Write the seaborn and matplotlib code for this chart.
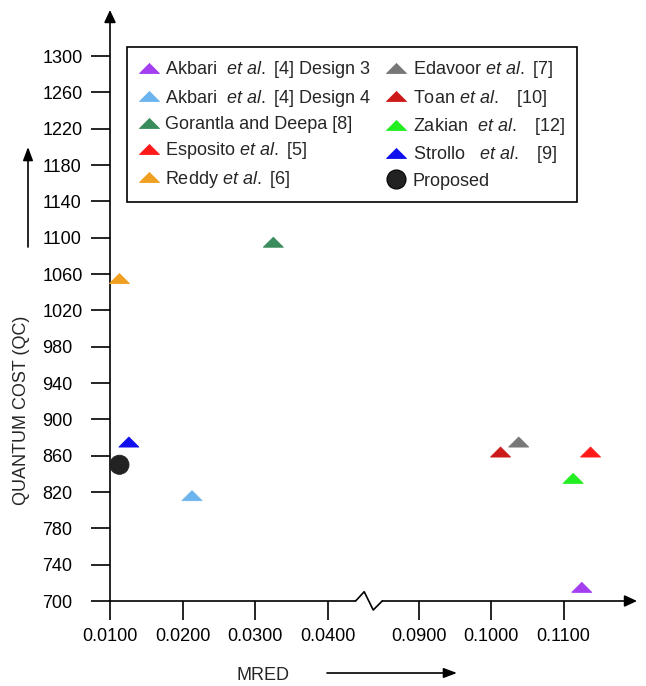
import numpy as np
import pandas as pd
import matplotlib
matplotlib.use("Agg")
import matplotlib.pyplot as plt
import seaborn as sns
from matplotlib.path import Path
from matplotlib.lines import Line2D

# data
methods = ["Akbari D3", "Akbari D4", "Gorantla", "Esposito", "Reddy",
           "Edavoor", "Toan", "Zakian", "Strollo", "Proposed"]
labels = [
    r"Akbari  $\mathit{et\ al.}$ [4] Design 3",
    r"Akbari  $\mathit{et\ al.}$ [4] Design 4",
    "Gorantla and Deepa [8]",
    r"Esposito $\mathit{et\ al.}$ [5]",
    r"Reddy $\mathit{et\ al.}$ [6]",
    r"Edavoor $\mathit{et\ al.}$ [7]",
    r"Toan $\mathit{et\ al.}$   [10]",
    r"Zakian  $\mathit{et\ al.}$   [12]",
    r"Strollo   $\mathit{et\ al.}$   [9]",
    "Proposed",
]
mred = [0.1125, 0.0213, 0.0325, 0.1137, 0.0113,
        0.1038, 0.1013, 0.1113, 0.0126, 0.0113]
qc = [715, 816, 1095, 864, 1055, 875, 864, 835, 875, 850]
colors = ["#a43ff0", "#6cb4ee", "#3a8c5c", "#ff1a1a", "#f0a020",
          "#777777", "#cc1a1a", "#22ee22", "#1010ee", "#222222"]

xticks = [0.01, 0.02, 0.03, 0.04, 0.09, 0.10, 0.11]
yticks = np.arange(700, 1301, 40)

sns.set_style("white")
plt.rcParams["font.family"] = ["Liberation Sans", "DejaVu Sans"]
plt.rcParams["mathtext.fontset"] = "custom"
plt.rcParams["mathtext.rm"] = "Liberation Sans"
plt.rcParams["mathtext.it"] = "Liberation Sans:italic"
plt.rcParams["mathtext.bf"] = "Liberation Sans:bold"

df = pd.DataFrame({"method": methods, "MRED": mred, "QC": qc})

# flat triangle marker (twice as wide as tall)
tri = Path([(-1, -0.5), (1, -0.5), (0, 0.5), (-1, -0.5)],
           [Path.MOVETO, Path.LINETO, Path.LINETO, Path.CLOSEPOLY])
marker_map = {m: tri for m in methods}
marker_map["Proposed"] = "o"
size_map = {m: 207 for m in methods}
size_map["Proposed"] = 190
palette = dict(zip(methods, colors))

# broken x axis: squeeze 0.04..0.09 into a short gap
K = 0.25
OFF = 0.0375


def fwd(x):
    x = np.asarray(x, dtype=float)
    return np.where(x <= 0.04, x,
                    np.where(x < 0.09, 0.04 + (x - 0.04) * K, x - OFF))


def inv(u):
    u = np.asarray(u, dtype=float)
    return np.where(u <= 0.04, u,
                    np.where(u < 0.09 - OFF, 0.04 + (u - 0.04) / K, u + OFF))


fig = plt.figure(figsize=(6.46, 6.86), dpi=100)
ax = fig.add_axes([110 / 646, 85 / 686, 527 / 646, 591 / 686])

sns.scatterplot(data=df, x="MRED", y="QC", hue="method", style="method",
                size="method", palette=palette, markers=marker_map,
                sizes=size_map, edgecolor="face", linewidth=0.6,
                legend=False, ax=ax, zorder=5, clip_on=False)

ax.set_xscale("function", functions=(fwd, inv))
ax.set_xlim(0.01, 0.1201)
ax.set_ylim(700, 1350.7)
ax.set_xticks(xticks)
ax.set_xticklabels([f"{t:.4f}" for t in xticks])
ax.set_yticks(yticks)
ax.set_yticklabels([str(t) for t in yticks], ha="left")
ax.minorticks_off()
ax.tick_params(axis="both", direction="out", length=13.7, width=1.2,
               color="black", labelsize=13, labelcolor="black",
               bottom=True, left=True, top=False, right=False)
ax.tick_params(axis="x", pad=6)
ax.tick_params(axis="y", pad=35)
ax.set_xlabel("")
ax.set_ylabel("")
ax.grid(False)

for s in ax.spines.values():
    s.set_visible(False)

arrow = dict(arrowstyle="-|>,head_length=0.75,head_width=0.35",
             color="black", lw=1.2, shrinkA=0, shrinkB=0)

# y axis with arrow
ax.annotate("", xy=(0, 1), xytext=(0, 0), xycoords="axes fraction",
            arrowprops=arrow, annotation_clip=False)

# x axis with a zigzag break
uc = 0.04567
du = np.array([-0.00183, -0.00065, 0.00059, 0.00183])
zx = inv(uc + du)
zy = np.array([0, 0.0157, -0.0152, 0])
btrans = ax.get_xaxis_transform()
ax.plot([0.01, zx[0]], [0, 0], color="black", lw=1.2, transform=btrans,
        clip_on=False, solid_capstyle="butt")
ax.plot(zx, zy, color="black", lw=1.2, transform=btrans, clip_on=False)
ax.annotate("", xy=(1, 0), xycoords="axes fraction",
            xytext=(float(zx[-1]), 0), textcoords=("data", "axes fraction"),
            arrowprops=arrow, annotation_clip=False)

# axis titles with their arrows
fig.text(22 / 646, 1 - 410 / 686, "QUANTUM COST (QC)", rotation=90,
         ha="center", va="center", fontsize=13)
fig.text(263 / 646, 1 - 676 / 686, "MRED", ha="center", va="center",
         fontsize=13)
title_arrow = dict(arrowstyle="-|>,head_length=0.8,head_width=0.3",
                   color="black", lw=1.2, shrinkA=0, shrinkB=0)
ax.annotate("", xy=(28, 686 - 147), xytext=(28, 686 - 247),
            xycoords="figure pixels", arrowprops=title_arrow,
            annotation_clip=False)
ax.annotate("", xy=(457, 13), xytext=(327, 13), xycoords="figure pixels",
            arrowprops=title_arrow, annotation_clip=False)

# legend
handles = []
for m, c in zip(methods, colors):
    if m == "Proposed":
        h = Line2D([], [], marker="o", markersize=13.7, linestyle="none",
                   markerfacecolor=c, markeredgecolor="black",
                   markeredgewidth=0.8)
    else:
        h = Line2D([], [], marker=tri, markersize=14.4, linestyle="none",
                   markerfacecolor=c, markeredgecolor=c, markeredgewidth=0.6)
    handles.append(h)

leg = ax.legend(handles, labels, ncol=2, loc="upper left",
                bbox_to_anchor=(17 / 527, (601 - 47) / 591),
                borderaxespad=0, fontsize=13, frameon=True, fancybox=False,
                framealpha=1, edgecolor="black", handlelength=1.1,
                handletextpad=0.35, labelspacing=0.405, columnspacing=0.85,
                borderpad=0.68)
leg.get_frame().set_linewidth(1.2)

fig.savefig("out.png", dpi=100)
